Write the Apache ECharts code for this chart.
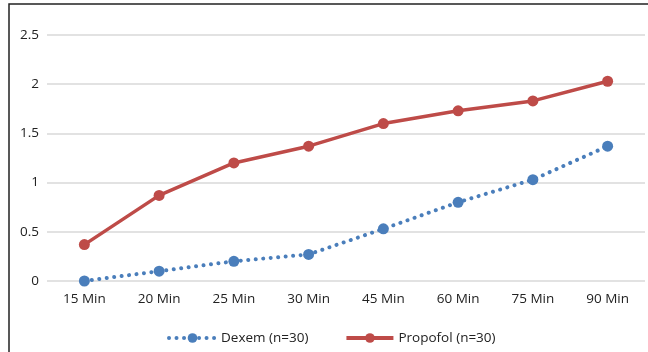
<!DOCTYPE html>
<html><head><meta charset="utf-8">
<script src="https://cdn.jsdelivr.net/npm/echarts@6/dist/echarts.min.js"></script>
<style>html,body{margin:0;padding:0;background:#fff}#c{width:648px;height:352px}</style>
</head><body><div id="c"></div>
<script>
const categories = ['15 Min','20 Min','25 Min','30 Min','45 Min','60 Min','75 Min','90 Min'];
const dexem = [0, 0.1, 0.2, 0.27, 0.53, 0.8, 1.03, 1.37];
const propofol = [0.37, 0.87, 1.2, 1.37, 1.6, 1.73, 1.83, 2.03];
const seriesNames = ['Dexem (n=30)', 'Propofol (n=30)'];

const chart = echarts.init(document.getElementById('c'), null, {renderer:'canvas'});
const font = 'Open Sans';
const blue = '#4a7ebb', red = '#be4b48';
chart.setOption({
  animation: false,
  backgroundColor: '#fff',
  graphic: [{
    type: 'rect', shape: {x: 9, y: 4, width: 700, height: 400},
    style: {fill: 'none', stroke: '#222', lineWidth: 1.5}, silent: true
  }],
  grid: {left: 47, right: 3, top: 35, bottom: 71, containLabel: false},
  xAxis: {
    type: 'category', data: categories, boundaryGap: true,
    axisLine: {show: false}, axisTick: {show: false},
    axisLabel: {color: '#222', fontFamily: font, fontSize: 13.5, margin: 11}
  },
  yAxis: {
    type: 'value', min: 0, max: 2.5, interval: 0.5,
    axisLine: {show: false}, axisTick: {show: false},
    splitLine: {lineStyle: {color: '#d9d9d9', width: 1.5}},
    axisLabel: {color: '#222', fontFamily: font, fontSize: 13.5, margin: 8}
  },
  legend: {
    bottom: 2, left: 162, itemWidth: 47, itemHeight: 12, itemGap: 36,
    textStyle: {color: '#222', fontFamily: font, fontSize: 13.5},
    data: [
      {name: seriesNames[0], lineStyle: {width: 4, type: [0.01, 7.5], cap: 'round', color: blue}},
      {name: seriesNames[1], lineStyle: {width: 4, color: red}}
    ]
  },
  series: [
    {
      name: seriesNames[0], type: 'line', data: dexem,
      symbol: 'circle', symbolSize: 11,
      itemStyle: {color: blue},
      lineStyle: {color: blue, width: 4, type: [0.01, 7.5], cap: 'round'}
    },
    {
      name: seriesNames[1], type: 'line', data: propofol,
      symbol: 'circle', symbolSize: 11,
      itemStyle: {color: red},
      lineStyle: {color: red, width: 3.5}
    }
  ]
});
</script></body></html>
